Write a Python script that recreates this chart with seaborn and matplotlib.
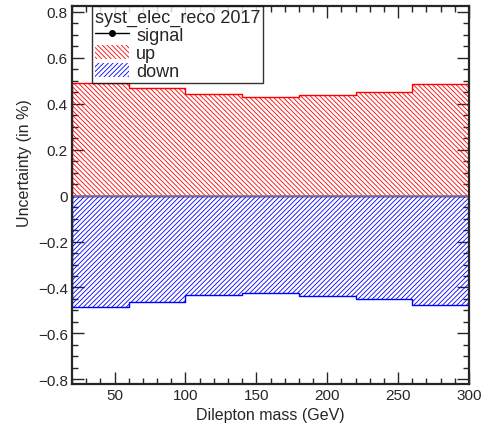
import numpy as np
import pandas as pd
import matplotlib
matplotlib.use("Agg")
import matplotlib.pyplot as plt
import seaborn as sns
from matplotlib.lines import Line2D
from matplotlib.patches import Patch
from matplotlib.ticker import MultipleLocator

# bin edges in dilepton mass (GeV)
bin_edges = [20, 60, 100, 140, 180, 220, 260, 300]
# uncertainty per bin (in %)
unc_up = [0.490, 0.468, 0.441, 0.429, 0.438, 0.452, 0.486]
unc_down = [-0.487, -0.465, -0.433, -0.426, -0.436, -0.448, -0.477]
signal = [0.0, 0.0, 0.0, 0.0, 0.0, 0.0, 0.0]

centers = [(a + b) / 2 for a, b in zip(bin_edges[:-1], bin_edges[1:])]
df = pd.DataFrame({"mass": centers, "up": unc_up, "down": unc_down, "signal": signal})

sns.set_style("ticks")
plt.rcParams["font.family"] = ["Liberation Sans", "DejaVu Sans"]
plt.rcParams["hatch.linewidth"] = 0.6

HATCH_UP = "\\" * 7
HATCH_DOWN = "/" * 7

fig = plt.figure(figsize=(4.85, 4.27), dpi=100)
ax = fig.add_axes([0.1485, 0.0984, 0.8185, 0.8852])

# up / down variations as step histograms
for col, c, h in [("up", "red", HATCH_UP), ("down", "blue", HATCH_DOWN)]:
    n0 = len(ax.collections)
    sns.histplot(data=df, x="mass", weights=col, bins=bin_edges, element="step",
                 fill=True, ax=ax, color=c)
    for coll in ax.collections[n0:]:
        coll.set_facecolor("none")
        coll.set_edgecolor(c)
        coll.set_hatch(h)
        coll.set_linewidth(1.0)

# nominal signal (zero line)
sns.histplot(data=df, x="mass", weights="signal", bins=bin_edges, element="step",
             fill=False, ax=ax, color="grey", linewidth=1.2)

ax.set_xlim(20, 300)
ax.set_ylim(-0.82, 0.825)
ax.xaxis.set_major_locator(MultipleLocator(50))
ax.xaxis.set_minor_locator(MultipleLocator(10))
ax.yaxis.set_major_locator(MultipleLocator(0.2))
ax.yaxis.set_minor_locator(MultipleLocator(0.05))
ax.yaxis.set_major_formatter(plt.FuncFormatter(
    lambda v, p: "0" if abs(v) < 1e-9 else f"{v:.1f}".replace("-", "\u2212")))
ax.tick_params(which="both", direction="in", top=True, right=True, labelsize=11, width=1, pad=3)
ax.tick_params(which="major", length=8.5)
ax.tick_params(which="minor", length=4.5)
for s in ax.spines.values():
    s.set_linewidth(1.6)
    s.set_visible(True)

ax.set_xlabel("Dilepton mass (GeV)", fontsize=11.5)
ax.xaxis.set_label_coords(0.5, -0.06)
ax.set_ylabel("Uncertainty (in %)", fontsize=11.5)
ax.yaxis.set_label_coords(-0.10, 0.587)

handles = [
    Line2D([0], [0], color="black", marker="o", markersize=4, lw=1),
    Patch(facecolor="none", edgecolor="red", hatch=HATCH_UP, lw=0),
    Patch(facecolor="none", edgecolor="blue", hatch=HATCH_DOWN, lw=0),
]
leg = ax.legend(handles, ["signal", "up", "down"], title="syst_elec_reco 2017",
                loc="upper left", bbox_to_anchor=(0.05, 1.0), fontsize=13,
                title_fontsize=13, frameon=True, fancybox=False, borderpad=0.15,
                labelspacing=0.05, handlelength=1.9, handleheight=0.8,
                handletextpad=0.4, borderaxespad=0)
leg._legend_box.align = "left"
leg.get_frame().set_edgecolor("black")
leg.get_frame().set_linewidth(1)

fig.savefig("out.png", dpi=100)
